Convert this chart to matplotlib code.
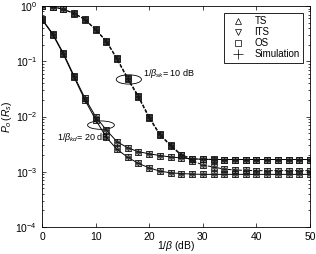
import matplotlib
matplotlib.use("Agg")
import matplotlib.pyplot as plt
from matplotlib.lines import Line2D
from matplotlib.patches import Ellipse
import numpy as np

plt.rcParams["font.family"] = ["Liberation Sans", "DejaVu Sans"]
plt.rcParams["mathtext.fontset"] = "custom"
plt.rcParams["mathtext.rm"] = "Liberation Sans"
plt.rcParams["mathtext.it"] = "Liberation Sans:italic"

snr_db = np.arange(0, 51, 2)

# 1/beta_kd = 20 dB (solid)
kd_upper = [0.58, 0.316, 0.139, 0.054, 0.0216, 0.0100, 5.7e-3, 3.5e-3, 2.72e-3,
            2.31e-3, 2.12e-3, 1.97e-3, 1.86e-3, 1.78e-3, 1.72e-3, 1.69e-3, 1.68e-3,
            1.67e-3, 1.67e-3, 1.67e-3, 1.67e-3, 1.67e-3, 1.67e-3, 1.67e-3, 1.67e-3, 1.67e-3]
kd_lower = [0.57, 0.305, 0.133, 0.051, 0.0200, 0.0088, 4.2e-3, 2.55e-3, 1.83e-3,
            1.42e-3, 1.18e-3, 1.03e-3, 0.96e-3, 0.93e-3, 0.91e-3, 0.90e-3, 0.90e-3,
            0.90e-3, 0.90e-3, 0.90e-3, 0.90e-3, 0.90e-3, 0.90e-3, 0.90e-3, 0.90e-3, 0.90e-3]

# 1/beta_sk = 10 dB (dashed)
sk_upper = [1.0, 0.98, 0.88, 0.74, 0.58, 0.38, 0.235, 0.113, 0.050, 0.0235,
            0.0099, 4.8e-3, 3.05e-3, 2.05e-3, 1.72e-3, 1.68e-3, 1.67e-3, 1.67e-3,
            1.67e-3, 1.67e-3, 1.67e-3, 1.67e-3, 1.67e-3, 1.67e-3, 1.67e-3, 1.67e-3]
sk_lower = [1.0, 0.97, 0.87, 0.73, 0.57, 0.37, 0.228, 0.108, 0.047, 0.0222,
            0.0093, 4.6e-3, 2.95e-3, 1.98e-3, 1.60e-3, 1.33e-3, 1.22e-3, 1.12e-3,
            1.08e-3, 1.06e-3, 1.05e-3, 1.05e-3, 1.05e-3, 1.05e-3, 1.05e-3, 1.05e-3]

fig = plt.figure(figsize=(3.16, 2.54), dpi=100)
ax = fig.add_axes([0.133, 0.106, 0.848, 0.870])

mk = dict(markersize=3.8, markerfacecolor="none", markeredgewidth=0.5,
          color="0.1", linestyle="none")
for vals, ls in [(kd_upper, "-"), (kd_lower, "-"), (sk_upper, "--"), (sk_lower, "--")]:
    ax.plot(snr_db, vals, color="black", linestyle=ls, linewidth=0.7)
    for m in ["^", "v", "s", "+"]:
        ax.plot(snr_db, vals, marker=m, **mk)

ax.set_yscale("log")
ax.set_xlim(0, 50)
ax.set_ylim(1e-4, 1)
ax.set_xticks([0, 10, 20, 30, 40, 50])
ax.tick_params(which="both", direction="in", top=True, right=True,
               labelsize=7.5, width=0.5)
ax.tick_params(which="major", length=3)
ax.tick_params(which="minor", length=1.6)
for s in ax.spines.values():
    s.set_linewidth(0.6)

ax.set_xlabel(r"$1/\beta$ (dB)", fontsize=7.5)
ax.xaxis.set_label_coords(0.5, -0.052)
ax.set_ylabel(r"$P_o\,(R_s)$", fontsize=7.5, labelpad=1)

# ellipse markers around curve groups
fig.canvas.draw()
to_axes = ax.transAxes.inverted()
for (cx, cy), w, h in [((16.2, 0.047), 0.094, 0.042), ((11.0, 7.0e-3), 0.100, 0.038)]:
    pos = to_axes.transform(ax.transData.transform((cx, cy)))
    ax.add_patch(Ellipse(pos, w, h, transform=ax.transAxes, fill=False,
                         edgecolor="black", linewidth=0.6))

ax.text(18.9, 0.061, r"$1/\beta_{sk}$= 10 dB", fontsize=6.5, va="center")
ax.text(2.8, 4.2e-3, r"$1/\beta_{kd}$= 20 dB", fontsize=6.5, va="center")

handles = [Line2D([], [], marker=m, **mk) for m in ["^", "v", "s", "+"]]
for h in handles:
    h.set_markersize(5)
    h.set_color("black")
handles[-1].set_markersize(7)
leg = ax.legend(handles, ["TS", "ITS", "OS", "Simulation"], loc="upper right",
                fontsize=7, fancybox=False, framealpha=1, edgecolor="black",
                borderaxespad=0.7, handlelength=2.3, labelspacing=0.1,
                borderpad=0.35, handletextpad=0.5)
leg.get_frame().set_linewidth(0.6)

fig.savefig("out.png", dpi=100)
